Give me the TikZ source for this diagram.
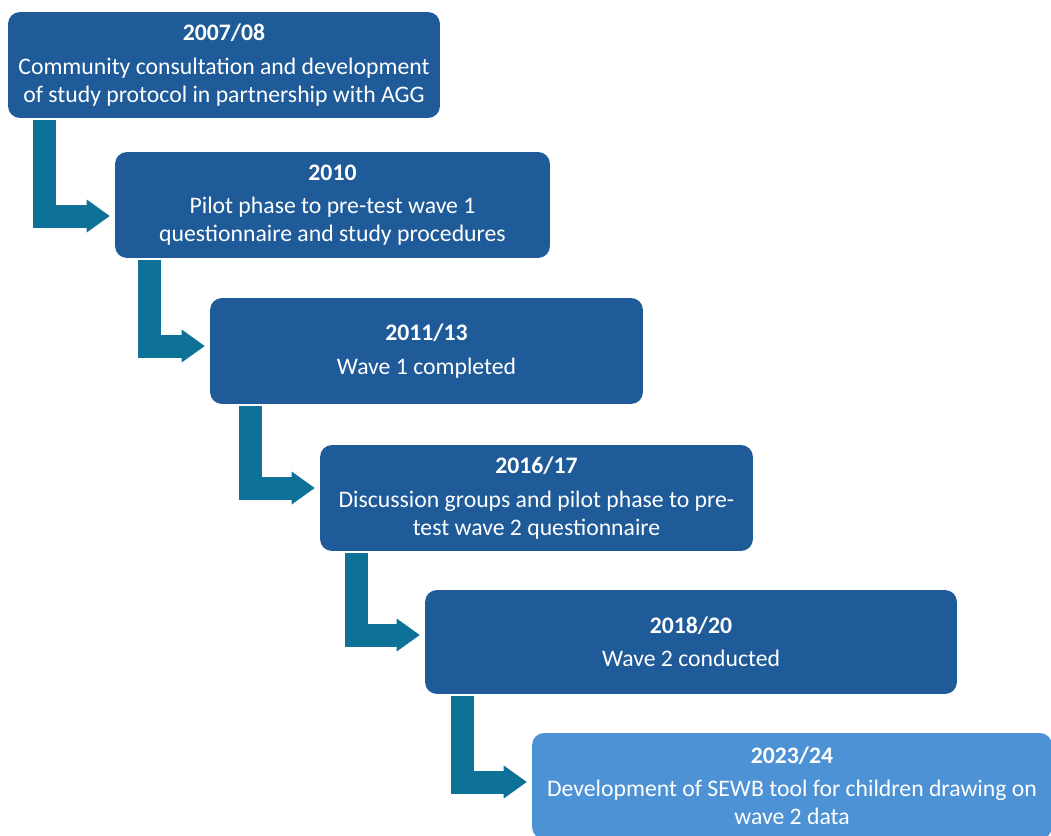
\documentclass[tikz,border=0pt]{standalone}
\usepackage{fontspec}
\setmainfont{Carlito}
\usepackage{tikz}
\usetikzlibrary{arrows.meta, calc}
\definecolor{stageBlue}{RGB}{31,91,153}
\definecolor{stageLight}{RGB}{78,146,214}
\definecolor{flowTeal}{RGB}{14,113,152}

\begin{document}
\begin{tikzpicture}[
  x=0.02cm, y=-0.02cm,
  stage/.style={fill=stageBlue, text=white, rounded corners=0.24cm, align=center,
    minimum width=8.66cm, minimum height=2.12cm, inner sep=0pt,
    font=\fontsize{13.5}{16}\selectfont},
  flow/.style={draw=flowTeal, line width=0.46cm, line cap=butt, line join=miter,
    -{Triangle[length=0.46cm, width=0.66cm, line width=0pt]}, shorten >=0.1cm},
]
  \useasboundingbox (0,0) rectangle (1051,835);
  \clip (0,0) rectangle (1051,835);

  \node[stage, minimum width=8.64cm] (s1) at (224,65)
    {\textbf{2007/08}\\[3pt] Community consultation and development\\
     of study protocol in partnership with AGG};
  \node[stage, minimum width=8.7cm] (s2) at (332.5,205)
    {\textbf{2010}\\[3pt] Pilot phase to pre-test wave 1\\
     questionnaire and study procedures};
  \node[stage] (s3) at (426.5,351)
    {\textbf{2011/13}\\[3pt] Wave 1 completed};
  \node[stage] (s4) at (536.5,498)
    {\textbf{2016/17}\\[3pt] Discussion groups and pilot phase to pre-\\
     test wave 2 questionnaire};
  \node[stage, minimum width=10.64cm, minimum height=2.08cm] (s5) at (691,642)
    {\textbf{2018/20}\\[3pt] Wave 2 conducted};
  \node[stage, fill=stageLight, minimum width=10.4cm] (s6) at (792,786)
    {\textbf{2023/24}\\[3pt] Development of SEWB tool for children drawing on\\
     wave 2 data};

  \draw[flow] ($(s1.south west)+(37,2)$) |- ($(s2.west)+(0,11)$);
  \draw[flow] ($(s2.south west)+(35,2)$) |- ($(s3.west)+(0,-5)$);
  \draw[flow] ($(s3.south west)+(41,2)$) |- ($(s4.west)+(0,-10)$);
  \draw[flow] ($(s4.south west)+(37,2)$) |- ($(s5.west)+(0,-7)$);
  \draw[flow] ($(s5.south west)+(38,2)$) |- ($(s6.west)+(0,-4)$);
\end{tikzpicture}
\end{document}
